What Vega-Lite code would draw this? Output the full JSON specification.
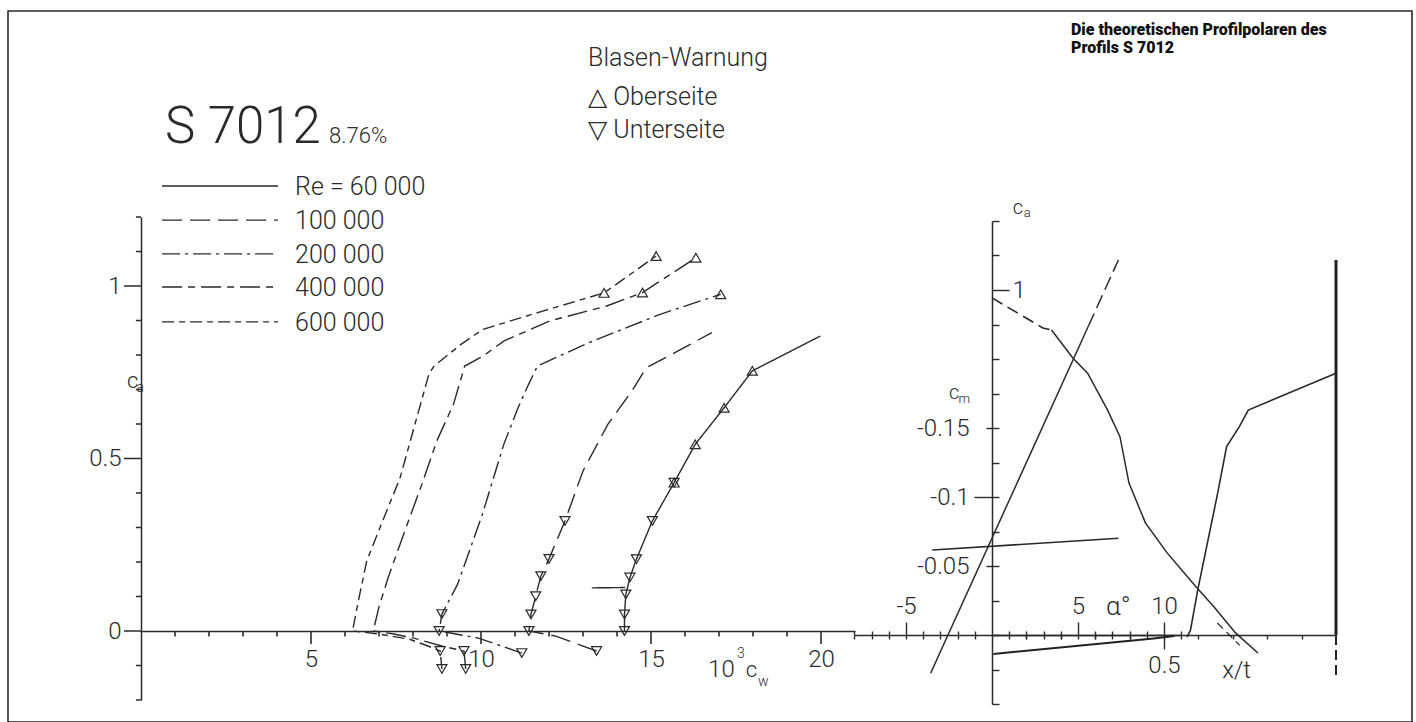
{
  "$schema": "https://vega.github.io/schema/vega-lite/v6.json",
  "width": 1404,
  "height": 711,
  "autosize": {"type": "none"},
  "padding": {"left": 8, "top": 11, "right": 4, "bottom": 0},
  "background": "white",
  "config": {
    "view": {"stroke": "#2a2a2a", "strokeWidth": 1.6},
    "axis": {"grid": false, "domainColor": "#2a2a2a", "tickColor": "#2a2a2a", "labelColor": "#2a2a2a", "labelFont": "Roboto", "labelFontSize": 24, "labelFontWeight": 300, "domainWidth": 1.5, "tickWidth": 1.4, "labelOverlap": false, "labelBound": false, "labelFlush": false},
    "text": {"font": "Roboto", "fontWeight": 300, "color": "#2a2a2a"}
  },
  "datasets": {
    "polars": [
      {"re": "600 000", "seg": "600", "x": 8.85, "y": -0.11},
      {"re": "600 000", "seg": "600", "x": 8.8, "y": -0.058},
      {"re": "600 000", "seg": "600", "x": 8.4, "y": -0.042},
      {"re": "600 000", "seg": "600", "x": 7.9, "y": -0.024},
      {"re": "600 000", "seg": "600", "x": 6.95, "y": -0.008},
      {"re": "600 000", "seg": "600", "x": 6.22, "y": 0},
      {"re": "600 000", "seg": "600", "x": 6.42, "y": 0.1},
      {"re": "600 000", "seg": "600", "x": 6.64, "y": 0.203},
      {"re": "600 000", "seg": "600", "x": 7.03, "y": 0.3},
      {"re": "600 000", "seg": "600", "x": 7.62, "y": 0.444},
      {"re": "600 000", "seg": "600", "x": 8.11, "y": 0.618},
      {"re": "600 000", "seg": "600", "x": 8.47, "y": 0.745},
      {"re": "600 000", "seg": "600", "x": 8.62, "y": 0.768},
      {"re": "600 000", "seg": "600", "x": 9.4, "y": 0.83},
      {"re": "600 000", "seg": "600", "x": 10.05, "y": 0.874},
      {"re": "600 000", "seg": "600", "x": 11.84, "y": 0.928},
      {"re": "600 000", "seg": "600", "x": 13.62, "y": 0.98},
      {"re": "600 000", "seg": "600", "x": 15.15, "y": 1.087},
      {"re": "400 000", "seg": "400", "x": 9.55, "y": -0.11},
      {"re": "400 000", "seg": "400", "x": 9.5, "y": -0.058},
      {"re": "400 000", "seg": "400", "x": 8.9, "y": -0.045},
      {"re": "400 000", "seg": "400", "x": 8.0, "y": -0.02},
      {"re": "400 000", "seg": "400", "x": 7.4, "y": -0.008},
      {"re": "400 000", "seg": "400", "x": 6.83, "y": 0},
      {"re": "400 000", "seg": "400", "x": 7.0, "y": 0.07},
      {"re": "400 000", "seg": "400", "x": 7.27, "y": 0.155},
      {"re": "400 000", "seg": "400", "x": 7.76, "y": 0.29},
      {"re": "400 000", "seg": "400", "x": 8.26, "y": 0.425},
      {"re": "400 000", "seg": "400", "x": 8.7, "y": 0.551},
      {"re": "400 000", "seg": "400", "x": 9.19, "y": 0.657},
      {"re": "400 000", "seg": "400", "x": 9.52, "y": 0.768},
      {"re": "400 000", "seg": "400", "x": 10.06, "y": 0.797},
      {"re": "400 000", "seg": "400", "x": 10.68, "y": 0.841},
      {"re": "400 000", "seg": "400", "x": 12.03, "y": 0.899},
      {"re": "400 000", "seg": "400", "x": 13.7, "y": 0.942},
      {"re": "400 000", "seg": "400", "x": 14.75, "y": 0.981},
      {"re": "400 000", "seg": "400", "x": 16.32, "y": 1.082},
      {"re": "200 000", "seg": "200", "x": 11.2, "y": -0.064},
      {"re": "200 000", "seg": "200", "x": 10.5, "y": -0.04},
      {"re": "200 000", "seg": "200", "x": 9.9, "y": -0.02},
      {"re": "200 000", "seg": "200", "x": 8.77, "y": 0},
      {"re": "200 000", "seg": "200", "x": 8.85, "y": 0.049},
      {"re": "200 000", "seg": "200", "x": 9.31, "y": 0.135},
      {"re": "200 000", "seg": "200", "x": 10.04, "y": 0.338},
      {"re": "200 000", "seg": "200", "x": 10.67, "y": 0.541},
      {"re": "200 000", "seg": "200", "x": 11.09, "y": 0.647},
      {"re": "200 000", "seg": "200", "x": 11.4, "y": 0.715},
      {"re": "200 000", "seg": "200", "x": 11.66, "y": 0.768},
      {"re": "200 000", "seg": "200", "x": 13.18, "y": 0.836},
      {"re": "200 000", "seg": "200", "x": 15.27, "y": 0.918},
      {"re": "200 000", "seg": "200", "x": 17.05, "y": 0.976},
      {"re": "100 000", "seg": "100", "x": 13.4, "y": -0.058},
      {"re": "100 000", "seg": "100", "x": 12.9, "y": -0.04},
      {"re": "100 000", "seg": "100", "x": 12.2, "y": -0.015},
      {"re": "100 000", "seg": "100", "x": 11.41, "y": 0},
      {"re": "100 000", "seg": "100", "x": 11.47, "y": 0.048},
      {"re": "100 000", "seg": "100", "x": 11.61, "y": 0.101},
      {"re": "100 000", "seg": "100", "x": 11.76, "y": 0.159},
      {"re": "100 000", "seg": "100", "x": 12.0, "y": 0.209},
      {"re": "100 000", "seg": "100", "x": 12.47, "y": 0.319},
      {"re": "100 000", "seg": "100", "x": 13.0, "y": 0.464},
      {"re": "100 000", "seg": "100", "x": 13.73, "y": 0.599},
      {"re": "100 000", "seg": "100", "x": 14.44, "y": 0.696},
      {"re": "100 000", "seg": "100", "x": 14.86, "y": 0.763},
      {"re": "100 000", "seg": "100", "x": 15.8, "y": 0.812},
      {"re": "100 000", "seg": "100", "x": 16.79, "y": 0.865},
      {"re": "60 000", "seg": "60", "x": 14.22, "y": 0},
      {"re": "60 000", "seg": "60", "x": 14.22, "y": 0.048},
      {"re": "60 000", "seg": "60", "x": 14.26, "y": 0.106},
      {"re": "60 000", "seg": "60", "x": 14.38, "y": 0.155},
      {"re": "60 000", "seg": "60", "x": 14.57, "y": 0.208},
      {"re": "60 000", "seg": "60", "x": 15.04, "y": 0.319},
      {"re": "60 000", "seg": "60", "x": 15.68, "y": 0.43},
      {"re": "60 000", "seg": "60", "x": 16.3, "y": 0.541},
      {"re": "60 000", "seg": "60", "x": 17.15, "y": 0.647},
      {"re": "60 000", "seg": "60", "x": 17.98, "y": 0.754},
      {"re": "60 000", "seg": "60", "x": 19.98, "y": 0.855},
      {"re": "60 000", "seg": "60b", "x": 13.26, "y": 0.125},
      {"re": "60 000", "seg": "60b", "x": 14.24, "y": 0.126}
    ],
    "markers": [
      {"side": "oben", "x": 13.62, "y": 0.98},
      {"side": "oben", "x": 15.15, "y": 1.087},
      {"side": "oben", "x": 14.75, "y": 0.981},
      {"side": "oben", "x": 16.32, "y": 1.082},
      {"side": "oben", "x": 17.05, "y": 0.976},
      {"side": "oben", "x": 15.68, "y": 0.43},
      {"side": "oben", "x": 16.3, "y": 0.541},
      {"side": "oben", "x": 17.15, "y": 0.647},
      {"side": "oben", "x": 17.98, "y": 0.754},
      {"side": "unten", "x": 8.77, "y": 0},
      {"side": "unten", "x": 8.85, "y": 0.049},
      {"side": "unten", "x": 8.8, "y": -0.058},
      {"side": "unten", "x": 8.85, "y": -0.11},
      {"side": "unten", "x": 9.5, "y": -0.058},
      {"side": "unten", "x": 9.55, "y": -0.11},
      {"side": "unten", "x": 11.2, "y": -0.064},
      {"side": "unten", "x": 13.4, "y": -0.058},
      {"side": "unten", "x": 11.41, "y": 0},
      {"side": "unten", "x": 11.47, "y": 0.048},
      {"side": "unten", "x": 11.61, "y": 0.101},
      {"side": "unten", "x": 11.76, "y": 0.159},
      {"side": "unten", "x": 12.0, "y": 0.209},
      {"side": "unten", "x": 12.47, "y": 0.319},
      {"side": "unten", "x": 14.22, "y": 0},
      {"side": "unten", "x": 14.22, "y": 0.048},
      {"side": "unten", "x": 14.26, "y": 0.106},
      {"side": "unten", "x": 14.38, "y": 0.155},
      {"side": "unten", "x": 14.57, "y": 0.208},
      {"side": "unten", "x": 15.04, "y": 0.319},
      {"side": "unten", "x": 15.68, "y": 0.43}
    ],
    "legendLines": [
      {"re": "60 000", "x": 0.62, "y": 1.29}, {"re": "60 000", "x": 4.03, "y": 1.29},
      {"re": "100 000", "x": 0.62, "y": 1.191}, {"re": "100 000", "x": 4.03, "y": 1.191},
      {"re": "200 000", "x": 0.62, "y": 1.093}, {"re": "200 000", "x": 4.03, "y": 1.093},
      {"re": "400 000", "x": 0.62, "y": 0.997}, {"re": "400 000", "x": 4.03, "y": 0.997},
      {"re": "600 000", "x": 0.62, "y": 0.896}, {"re": "600 000", "x": 4.03, "y": 0.896}
    ],
    "yTicks": [
      {"x": 0, "x2": -0.15, "y": -0.2, "y2": -0.2}, {"x": 0, "x2": -0.15, "y": -0.1, "y2": -0.1},
      {"x": 0, "x2": -0.5, "y": 0, "y2": 0},
      {"x": 0, "x2": -0.15, "y": 0.1, "y2": 0.1}, {"x": 0, "x2": -0.15, "y": 0.2, "y2": 0.2},
      {"x": 0, "x2": -0.15, "y": 0.3, "y2": 0.3}, {"x": 0, "x2": -0.15, "y": 0.4, "y2": 0.4},
      {"x": 0, "x2": -0.5, "y": 0.5, "y2": 0.5},
      {"x": 0, "x2": -0.15, "y": 0.6, "y2": 0.6}, {"x": 0, "x2": -0.15, "y": 0.7, "y2": 0.7},
      {"x": 0, "x2": -0.15, "y": 0.8, "y2": 0.8}, {"x": 0, "x2": -0.15, "y": 0.9, "y2": 0.9},
      {"x": 0, "x2": -0.5, "y": 1, "y2": 1},
      {"x": 0, "x2": -0.15, "y": 1.1, "y2": 1.1}, {"x": 0, "x2": -0.15, "y": 1.2, "y2": 1.2}
    ],
    "xTicks": [
      {"tk": "1", "x": 1, "y": 0}, {"tk": "1", "x": 1, "y": -0.016},
      {"tk": "2", "x": 2, "y": 0}, {"tk": "2", "x": 2, "y": -0.016},
      {"tk": "3", "x": 3, "y": 0}, {"tk": "3", "x": 3, "y": -0.016},
      {"tk": "4", "x": 4, "y": 0}, {"tk": "4", "x": 4, "y": -0.016},
      {"tk": "5", "x": 5, "y": 0}, {"tk": "5", "x": 5, "y": -0.038},
      {"tk": "6", "x": 6, "y": 0}, {"tk": "6", "x": 6, "y": -0.016},
      {"tk": "7", "x": 7, "y": 0}, {"tk": "7", "x": 7, "y": -0.016},
      {"tk": "8", "x": 8, "y": 0}, {"tk": "8", "x": 8, "y": -0.016},
      {"tk": "9", "x": 9, "y": 0}, {"tk": "9", "x": 9, "y": -0.016},
      {"tk": "10", "x": 10, "y": 0}, {"tk": "10", "x": 10, "y": -0.038},
      {"tk": "11", "x": 11, "y": 0}, {"tk": "11", "x": 11, "y": -0.016},
      {"tk": "12", "x": 12, "y": 0}, {"tk": "12", "x": 12, "y": -0.016},
      {"tk": "13", "x": 13, "y": 0}, {"tk": "13", "x": 13, "y": -0.016},
      {"tk": "14", "x": 14, "y": 0}, {"tk": "14", "x": 14, "y": -0.016},
      {"tk": "15", "x": 15, "y": 0}, {"tk": "15", "x": 15, "y": -0.038},
      {"tk": "16", "x": 16, "y": 0}, {"tk": "16", "x": 16, "y": -0.016},
      {"tk": "17", "x": 17, "y": 0}, {"tk": "17", "x": 17, "y": -0.016},
      {"tk": "18", "x": 18, "y": 0}, {"tk": "18", "x": 18, "y": -0.016},
      {"tk": "19", "x": 19, "y": 0}, {"tk": "19", "x": 19, "y": -0.016},
      {"tk": "20", "x": 20, "y": 0}, {"tk": "20", "x": 20, "y": -0.038}
    ],
    "txtBig": [{"x": 0.706, "y": 1.4145, "t": "S 7012"}],
    "txtPct": [{"x": 5.53, "y": 1.4145, "t": "8.76%"}],
    "txtMid": [
      {"x": 4.53, "y": 1.264, "t": "Re = 60 000"},
      {"x": 4.53, "y": 1.165, "t": "100 000"},
      {"x": 4.53, "y": 1.067, "t": "200 000"},
      {"x": 4.53, "y": 0.971, "t": "400 000"},
      {"x": 4.53, "y": 0.87, "t": "600 000"},
      {"x": 13.15, "y": 1.638, "t": "Blasen-Warnung"},
      {"x": 13.15, "y": 1.525, "t": "△ Oberseite"},
      {"x": 13.15, "y": 1.429, "t": "▽ Unterseite"}
    ],
    "txtTen": [{"x": 16.68, "y": -0.133, "t": "10"}],
    "txtC": [
      {"x": -0.41, "y": 0.704, "t": "c"},
      {"x": 17.79, "y": -0.133, "t": "c"}
    ],
    "txtSub": [
      {"x": -0.13, "y": 0.693, "t": "a"},
      {"x": 17.53, "y": -0.078, "t": "3"},
      {"x": 18.15, "y": -0.159, "t": "w"}
    ],
    "liftSolid": [{"a": -3.57, "c": -0.111}, {"a": 5.6, "c": 0.895}],
    "liftDash": [{"a": 5.6, "c": 0.895}, {"a": 7.35, "c": 1.087}],
    "cmLine": [{"a": -3.47, "m": -0.0616}, {"a": 7.35, "m": -0.0701}],
    "title": [
      {"a": 4.593, "c": 1.739, "t": "Die theoretischen Profilpolaren des"},
      {"a": 4.593, "c": 1.687, "t": "Profils S 7012"}
    ],
    "txtRC": [
      {"a": 1.2, "c": 1.22, "t": "c"},
      {"a": -2.5, "c": 0.684, "t": "c"}
    ],
    "txtRSub": [
      {"a": 1.85, "c": 1.2116, "t": "a"},
      {"a": -1.95, "c": 0.672, "t": "m"}
    ],
    "txtAlpha": [{"a": 6.63, "c": 0.058, "t": "α°"}],
    "upDash": [{"t": 0, "c": 0.977}, {"t": 0.148, "c": 0.89}, {"t": 0.173, "c": 0.884}],
    "upSolid": [
      {"t": 0.173, "c": 0.884}, {"t": 0.235, "c": 0.803}, {"t": 0.278, "c": 0.759},
      {"t": 0.336, "c": 0.652}, {"t": 0.372, "c": 0.575}, {"t": 0.398, "c": 0.441},
      {"t": 0.446, "c": 0.325}, {"t": 0.509, "c": 0.238}, {"t": 0.593, "c": 0.14},
      {"t": 0.645, "c": 0.082}, {"t": 0.708, "c": 0.006}, {"t": 0.773, "c": -0.052}
    ],
    "upDash2": [{"t": 0.655, "c": 0.035}, {"t": 0.72, "c": -0.03}],
    "lowCurve": [
      {"t": 0.567, "c": -0.006}, {"t": 0.577, "c": 0.014}, {"t": 0.598, "c": 0.13},
      {"t": 0.624, "c": 0.256}, {"t": 0.656, "c": 0.411}, {"t": 0.682, "c": 0.546},
      {"t": 0.719, "c": 0.604}, {"t": 0.745, "c": 0.652}, {"t": 1.0, "c": 0.759}
    ],
    "thickSolid": [{"t": 1, "c": 1.087}, {"t": 1, "c": 0}],
    "thickDash": [{"t": 1, "c": 0}, {"t": 1, "c": -0.125}],
    "belowLine": [{"t": 0.004, "c": -0.055}, {"t": 0.47, "c": -0.01}, {"t": 0.53, "c": -0.003}],
    "txtXT": [{"t": 0.669, "c": -0.125, "s": "x/t"}]
  },
  "resolve": {"scale": {"x": "independent", "y": "independent"}},
  "layer": [
    {
      "encoding": {
        "x": {"field": "x", "type": "quantitative", "title": null,
          "scale": {"domain": [0, 21], "range": [133, 847]},
          "axis": {"orient": "bottom", "offset": -91,
            "values": [5, 10, 15, 20], "ticks": false,
            "labelExpr": "datum.value + ''", "labelPadding": 16, "domain": true}},
        "y": {"field": "y", "type": "quantitative", "title": null,
          "scale": {"domain": [-0.2, 1.2], "range": [689, 206]},
          "axis": {"orient": "left", "offset": -133,
            "values": [0, 0.5, 1], "ticks": false,
            "labelExpr": "datum.value === 0 ? '0' : datum.value === 0.5 ? '0.5' : '1'",
            "labelPadding": 20, "domain": true}}
      },
      "layer": [
        {"data": {"name": "yTicks"},
         "mark": {"type": "rule", "stroke": "#2a2a2a", "strokeWidth": 1.5},
         "encoding": {"x2": {"field": "x2"}, "y2": {"field": "y2"}}},
        {"data": {"name": "xTicks"},
         "mark": {"type": "line", "stroke": "#2a2a2a", "strokeWidth": 1.6},
         "encoding": {"detail": {"field": "tk"}, "order": {"field": "y", "type": "quantitative"}}},
        {"data": {"name": "polars"},
         "mark": {"type": "line", "stroke": "#2a2a2a", "strokeWidth": 1.4},
         "encoding": {
           "strokeDash": {"field": "re", "type": "nominal", "legend": null,
             "scale": {"domain": ["60 000", "100 000", "200 000", "400 000", "600 000"],
                       "range": [[1, 0], [20, 8], [18, 5, 3, 5], [20, 6, 7, 6], [12, 5, 6, 5]]}},
           "detail": {"field": "seg"},
           "order": {"field": "y", "type": "quantitative"}}},
        {"data": {"name": "legendLines"},
         "mark": {"type": "line", "stroke": "#2a2a2a", "strokeWidth": 1.4},
         "encoding": {
           "strokeDash": {"field": "re", "type": "nominal", "legend": null},
           "detail": {"field": "re"}}},
        {"data": {"name": "markers"},
         "mark": {"type": "point", "filled": false, "stroke": "#2a2a2a", "strokeWidth": 1.2, "size": 100, "opacity": 1},
         "encoding": {
           "shape": {"field": "side", "type": "nominal", "legend": null,
             "scale": {"domain": ["oben", "unten"], "range": ["triangle-up", "triangle-down"]}}}},
        {"data": {"name": "txtBig"},
         "mark": {"type": "text", "align": "left", "baseline": "alphabetic", "fontSize": 51},
         "encoding": {"text": {"field": "t"}}},
        {"data": {"name": "txtPct"},
         "mark": {"type": "text", "align": "left", "baseline": "alphabetic", "fontSize": 22},
         "encoding": {"text": {"field": "t"}}},
        {"data": {"name": "txtMid"},
         "mark": {"type": "text", "align": "left", "baseline": "alphabetic", "fontSize": 25},
         "encoding": {"text": {"field": "t"}}},
        {"data": {"name": "txtTen"},
         "mark": {"type": "text", "align": "left", "baseline": "alphabetic", "fontSize": 24},
         "encoding": {"text": {"field": "t"}}},
        {"data": {"name": "txtC"},
         "mark": {"type": "text", "align": "left", "baseline": "alphabetic", "fontSize": 22},
         "encoding": {"text": {"field": "t"}}},
        {"data": {"name": "txtSub"},
         "mark": {"type": "text", "align": "left", "baseline": "alphabetic", "fontSize": 14},
         "encoding": {"text": {"field": "t"}}}
      ]
    },
    {
      "encoding": {
        "x": {"field": "a", "type": "quantitative", "title": null,
          "scale": {"domain": [-8, 11], "range": [846.4, 1173.2]},
          "axis": {"orient": "top", "offset": -624,
            "values": [-8,-7,-6,-5,-4,-3,-2,-1,1,2,3,4,5,6,7,8,9,10,11],
            "tickSize": {"condition": {"test": "datum.value === -5 || datum.value === 5 || datum.value === 10", "value": 13}, "value": 4},
            "labelExpr": "datum.value === -5 ? '-5' : datum.value === 5 ? '5' : datum.value === 10 ? '10' : ''",
            "labelPadding": 4}},
        "y": {"field": "c", "type": "quantitative", "title": null,
          "scale": {"domain": [-0.2, 1.2], "range": [693, 210]},
          "axis": {"orient": "right", "offset": -420,
            "values": [-0.2,-0.1,0,0.1,0.2,0.3,0.4,0.5,0.6,0.7,0.8,0.9,1,1.1,1.2],
            "tickSize": {"condition": {"test": "datum.value === 1", "value": 17}, "value": 7},
            "labelExpr": "datum.value === 1 ? '1' : ''",
            "labelPadding": 3}}
      },
      "layer": [
        {"data": {"name": "liftSolid"}, "mark": {"type": "line", "stroke": "#2a2a2a", "strokeWidth": 1.5}},
        {"data": {"name": "liftDash"}, "mark": {"type": "line", "stroke": "#2a2a2a", "strokeWidth": 1.5, "strokeDash": [14, 6]}},
        {"data": {"name": "title"},
         "mark": {"type": "text", "align": "left", "baseline": "alphabetic", "fontSize": 16, "fontWeight": 900, "color": "#111"},
         "encoding": {"text": {"field": "t"}}},
        {"data": {"name": "txtRC"},
         "mark": {"type": "text", "align": "left", "baseline": "alphabetic", "fontSize": 20},
         "encoding": {"text": {"field": "t"}}},
        {"data": {"name": "txtRSub"},
         "mark": {"type": "text", "align": "left", "baseline": "alphabetic", "fontSize": 13},
         "encoding": {"text": {"field": "t"}}},
        {"data": {"name": "txtAlpha"},
         "mark": {"type": "text", "align": "left", "baseline": "alphabetic", "fontSize": 26},
         "encoding": {"text": {"field": "t"}}}
      ]
    },
    {
      "data": {"name": "cmLine"},
      "mark": {"type": "line", "stroke": "#2a2a2a", "strokeWidth": 1.6},
      "encoding": {
        "x": {"field": "a", "type": "quantitative", "title": null,
          "scale": {"domain": [-8, 11], "range": [846.4, 1173.2]},
          "axis": {"orient": "bottom", "offset": -87,
            "values": [-8,-7,-6,-5,-4,-3,-2,-1,1,2,3,4,5,6,7,8,9,10,11],
            "tickSize": 4, "labels": false, "domain": false}},
        "y": {"field": "m", "type": "quantitative", "title": null,
          "scale": {"domain": [0, -0.25], "range": [624, 279]},
          "axis": {"orient": "left", "offset": -984,
            "values": [-0.05, -0.1, -0.15],
            "tickSize": {"condition": {"test": "datum.value === -0.1", "value": 18}, "value": 6},
            "labelPadding": {"condition": {"test": "datum.value === -0.1", "value": 5}, "value": 17},
            "labelExpr": "datum.value === -0.05 ? '-0.05' : datum.value === -0.1 ? '-0.1' : '-0.15'",
            "domain": false}}
      }
    },
    {
      "encoding": {
        "x": {"field": "t", "type": "quantitative", "title": null,
          "scale": {"domain": [0, 1], "range": [984, 1328]},
          "axis": {"orient": "bottom", "offset": -87,
            "values": [0.1,0.2,0.3,0.4,0.5,0.6,0.7,0.8,0.9],
            "tickSize": {"condition": {"test": "datum.value === 0.5", "value": 14}, "value": 4},
            "labelExpr": "datum.value === 0.5 ? '0.5' : ''",
            "labelPadding": 4}},
        "y": {"field": "c", "type": "quantitative", "title": null,
          "scale": {"domain": [-0.2, 1.2], "range": [693, 210]},
          "axis": null}
      },
      "layer": [
        {"data": {"name": "upDash"}, "mark": {"type": "line", "stroke": "#2a2a2a", "strokeWidth": 1.6, "strokeDash": [12, 6]}},
        {"data": {"name": "upSolid"}, "mark": {"type": "line", "stroke": "#2a2a2a", "strokeWidth": 1.5}},
        {"data": {"name": "upDash2"}, "mark": {"type": "line", "stroke": "#2a2a2a", "strokeWidth": 1.3, "strokeDash": [8, 5]}},
        {"data": {"name": "lowCurve"}, "mark": {"type": "line", "stroke": "#2a2a2a", "strokeWidth": 1.6}},
        {"data": {"name": "thickSolid"}, "mark": {"type": "line", "stroke": "#222", "strokeWidth": 3}},
        {"data": {"name": "thickDash"}, "mark": {"type": "line", "stroke": "#222", "strokeWidth": 2, "strokeDash": [10, 5]}},
        {"data": {"name": "belowLine"}, "mark": {"type": "line", "stroke": "#222", "strokeWidth": 2}},
        {"data": {"name": "txtXT"},
         "mark": {"type": "text", "align": "left", "baseline": "alphabetic", "fontSize": 24},
         "encoding": {"text": {"field": "s"}}}
      ]
    }
  ]
}
